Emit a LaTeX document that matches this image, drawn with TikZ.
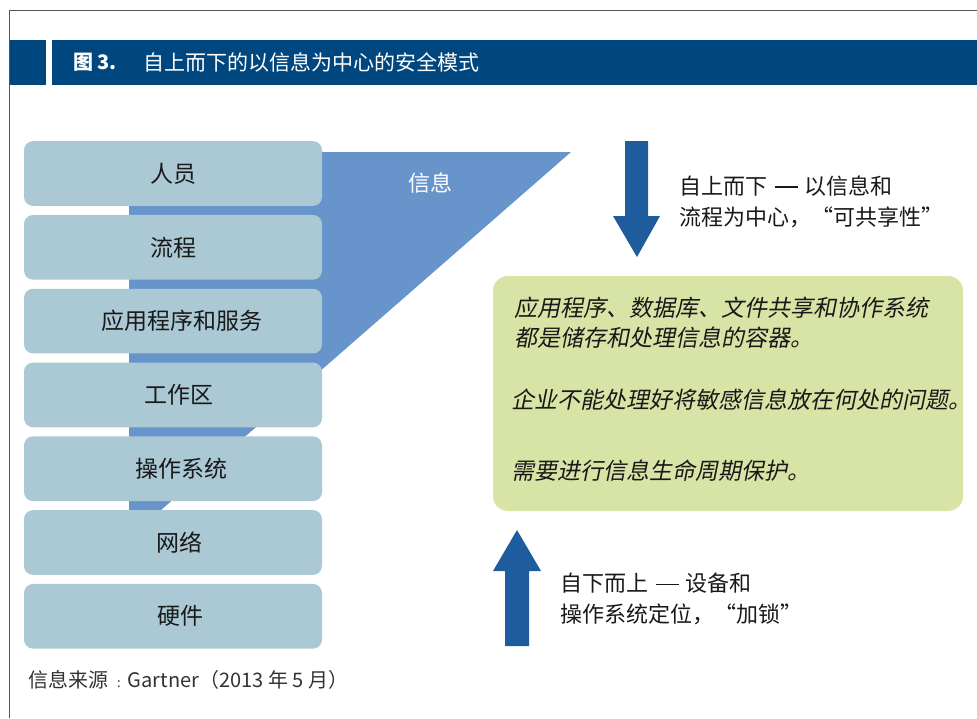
\documentclass[tikz,border=0pt]{standalone}
\usepackage{fontspec}
\setmainfont{Noto Sans CJK SC}
\newfontfamily\slantcjk[FakeSlant=0.2]{Noto Sans CJK SC}
\usetikzlibrary{positioning}
\definecolor{headblue}{HTML}{00477F}
\definecolor{funnelblue}{HTML}{6795CB}
\definecolor{layerblue}{HTML}{ABC9D5}
\definecolor{arrowblue}{HTML}{1F5C9E}
\definecolor{notegreen}{HTML}{D7E4A5}
\definecolor{framegray}{HTML}{555555}
\newcommand{\longdash}{\hspace{8pt}\rule[6.5pt]{23pt}{1.4pt}\hspace{6pt}}
\tikzset{
  layer/.style={fill=layerblue,rounded corners=9pt,minimum width=298pt,minimum height=64.7pt,
    inner sep=0pt,font=\fontsize{23}{26}\selectfont,text=black!90},
  plain/.style={inner sep=0pt,anchor=west,align=left,font=\fontsize{22}{31}\selectfont,text=black!90},
  slanted/.style={plain,font=\fontsize{23}{30}\slantcjk}
}
\begin{document}
\begin{tikzpicture}[x=1pt,y=-1pt]
  \useasboundingbox (0,0) rectangle (977,718);
  \draw[framegray,line width=1pt] (9,718) -- (9,10) -- (977,10);
  \fill[headblue] (10,40) rectangle (46,85);
  \fill[headblue] (52,40) rectangle (977,85);
  \node[inner sep=0pt,anchor=west,text=white,font=\fontsize{20}{24}\selectfont] (fig) at (73,62) {\textbf{图 3.}};
  \node[inner sep=0pt,anchor=west,text=white,font=\fontsize{21}{24}\selectfont] (title) at (143,62) {自上而下的以信息为中心的安全模式};
  \fill[funnelblue] (129,152) -- (571,152) -- (129,538) -- cycle;
  \node[inner sep=0pt,text=white,font=\fontsize{22}{26}\selectfont] (info) at (430,183) {信息};
  \node[layer] (people) at (173,173.5) {人员};
  \node[layer,below=8.7pt of people] (process) {流程};
  \node[layer,below=8.7pt of process] (apps) {\hspace*{17pt}应用程序和服务};
  \node[layer,below=8.7pt of apps] (workspace) {\hspace*{12pt}工作区};
  \node[layer,below=8.7pt of workspace] (os) {\hspace*{16pt}操作系统};
  \node[layer,below=8.7pt of os] (network) {\hspace*{13pt}网络};
  \node[layer,below=8.7pt of network] (hardware) {\hspace*{14pt}硬件};
  \fill[arrowblue] (625,141) -- (648,141) -- (648,216) -- (660,216) -- (637,257) -- (613,216) -- (625,216) -- cycle;
  \node[plain] (topdown) at (679,201.5) {自上而下\longdash 以信息和\\流程为中心，“可共享性”};
  \node[fill=notegreen,rounded corners=15pt,minimum width=470pt,minimum height=235pt] (note) at (728,393.5) {};
  \node[slanted] (noteA) at (514,323) {应用程序、数据库、文件共享和协作系统\\ 都是储存和处理信息的容器。};
  \node[slanted] (noteB) at (511,400) {企业不能处理好将敏感信息放在何处的问题。};
  \node[slanted] (noteC) at (511,471) {需要进行信息生命周期保护。};
  \fill[arrowblue] (517,530) -- (541,571) -- (529,571) -- (529,646) -- (505,646) -- (505,571) -- (493,571) -- cycle;
  \node[plain] (bottomup) at (560,599) {自下而上\longdash 设备和\\操作系统定位，“加锁”};
  \node[inner sep=0pt,anchor=west,text=black!80,font=\fontsize{20}{24}\selectfont] (source) at (28,680)
    {信息来源\hspace{9pt}{\fontsize{13}{13}\selectfont :}\hspace{7pt}Gartner（2013 年 5 月）};
\end{tikzpicture}
\end{document}
